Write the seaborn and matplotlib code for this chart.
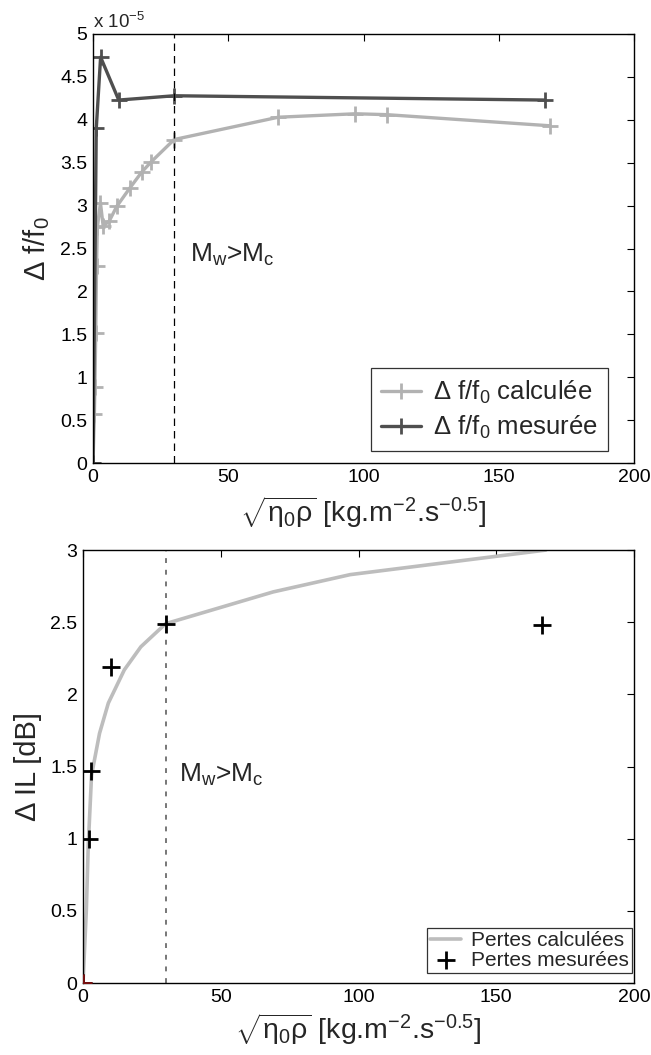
# Delta f/f0 and Delta IL versus sqrt(eta0*rho), two stacked panels
import numpy as np
import matplotlib
matplotlib.use("Agg")
import matplotlib.pyplot as plt
from matplotlib.ticker import FuncFormatter
import seaborn as sns

# --- data ---
# top panel, y values in units of 1e-5
calc_x = [0, 0.5, 0.7, 1.0, 1.3, 1.6, 2.75, 3.75, 6, 8.75, 13.5, 18, 21.5, 30, 68.5, 97, 108.5, 169]
calc_y = [0, 0.57, 0.89, 1.51, 2.30, 2.75, 3.03, 2.76, 2.82, 2.99, 3.20, 3.39, 3.51, 3.77, 4.03, 4.07, 4.06, 3.93]
meas_x = [0, 1.2, 2.8, 9.5, 30, 167]
meas_y = [0, 3.90, 4.73, 4.23, 4.28, 4.23]

# bottom panel
loss_calc_x = [0, 0.6, 1.2, 1.9, 3.1, 6, 9.2, 15, 21, 30, 69, 97, 168]
loss_calc_y = [0, 0.25, 0.5, 0.95, 1.44, 1.73, 1.94, 2.17, 2.33, 2.49, 2.71, 2.83, 3.0]
loss_meas_x = [0, 2, 3, 10, 30, 166.5]
loss_meas_y = [0, 1.0, 1.47, 2.19, 2.49, 2.48]

x_crit = 30
x_ticks = [0, 50, 100, 150, 200]
top_yticks = np.arange(0, 5.01, 0.5)
bot_yticks = np.arange(0, 3.01, 0.5)

sns.set_theme(style="white")
plt.rcParams["font.family"] = ["Liberation Sans", "DejaVu Sans"]
plt.rcParams["mathtext.fontset"] = "custom"
plt.rcParams["mathtext.rm"] = "Liberation Sans"
plt.rcParams["mathtext.it"] = "Liberation Sans:italic"
plt.rcParams["mathtext.bf"] = "Liberation Sans:bold"

light = "#b2b2b2"
dark = "#4f4f4f"
xlab = r"$\sqrt{\mathregular{\eta_0\rho}}$ [kg.m$^{\mathregular{-2}}$.s$^{\mathregular{-0.5}}$]"


def style_axes(ax):
    for s in ax.spines.values():
        s.set_color("black")
        s.set_linewidth(1)
    ax.tick_params(direction="in", length=5, width=0.8, top=True, right=True,
                   labelsize=14, pad=4, colors="black")


fig = plt.figure(figsize=(6.51, 10.55), dpi=100)

# ---------- top panel ----------
ax1 = fig.add_axes([0.1429, 0.5611, 0.831, 0.4067])
sns.lineplot(x=np.array(calc_x), y=np.array(calc_y) * 1e-5, ax=ax1, color=light,
             linewidth=2.4, marker="+", markersize=12, markeredgewidth=2,
             markeredgecolor=light, estimator=None, sort=False,
             label=r"Δ f/f$\mathregular{_0}$ calculée")
sns.lineplot(x=np.array(meas_x), y=np.array(meas_y) * 1e-5, ax=ax1, color=dark,
             linewidth=2.4, marker="+", markersize=12, markeredgewidth=2,
             markeredgecolor=dark, estimator=None, sort=False,
             label=r"Δ f/f$\mathregular{_0}$ mesurée")
ax1.axvline(x_crit, color="black", linestyle=(0, (6, 4)), linewidth=0.9)
ax1.set_xlim(0, 200)
ax1.set_ylim(0, 5e-5)
ax1.set_xticks(x_ticks)
ax1.set_yticks(top_yticks * 1e-5)
ax1.yaxis.set_major_formatter(FuncFormatter(lambda v, p: f"{v * 1e5:g}"))
style_axes(ax1)
ax1.set_xlabel(xlab, fontsize=20.5, labelpad=6)
ax1.set_ylabel(r"Δ f/f$\mathregular{_0}$", fontsize=21, labelpad=6)
ax1.text(0, 1.004, r"x 10$^{\mathregular{-5}}$", transform=ax1.transAxes,
         fontsize=13.5, ha="left", va="bottom")
ax1.text(36, 2.42e-5, r"M$_{\mathregular{w}}$>M$_{\mathregular{c}}$", fontsize=19,
         ha="left", va="center")
leg1 = ax1.legend(loc="lower right", bbox_to_anchor=(0.952, 0.028), borderaxespad=0,
                  fontsize=18.5, frameon=True, fancybox=False, edgecolor="black",
                  handlelength=1.55, handletextpad=0.45, labelspacing=0.3, borderpad=0.4)
leg1.get_frame().set_linewidth(0.9)

# ---------- bottom panel ----------
ax2 = fig.add_axes([0.1275, 0.0682, 0.8464, 0.4104])
sns.lineplot(x=loss_calc_x, y=loss_calc_y, ax=ax2, color="#bdbdbd", linewidth=2.6,
             estimator=None, sort=False, label="Pertes calculées")
sns.scatterplot(x=loss_meas_x, y=loss_meas_y, ax=ax2, marker="+", s=150,
                color="black", linewidth=2, label="Pertes mesurées", zorder=3)
ax2.scatter(loss_meas_x[:1], loss_meas_y[:1], marker="+", s=150, color="#7a1010",
            linewidth=2, zorder=4)
ax2.axvline(x_crit, color="#777777", linestyle=(0, (2.5, 3.5)), linewidth=1.4)
ax2.set_xlim(0, 200)
ax2.set_ylim(0, 3)
ax2.set_xticks(x_ticks)
ax2.set_yticks(bot_yticks)
ax2.yaxis.set_major_formatter(FuncFormatter(lambda v, p: f"{v:g}"))
style_axes(ax2)
ax2.set_xlabel(xlab, fontsize=20.5, labelpad=4)
ax2.set_ylabel("Δ IL [dB]", fontsize=21, labelpad=6)
ax2.text(35, 1.44, r"M$_{\mathregular{w}}$>M$_{\mathregular{c}}$", fontsize=19,
         ha="left", va="center")
leg2 = ax2.legend(loc="lower right", bbox_to_anchor=(0.996, 0.023), borderaxespad=0,
                  fontsize=15, frameon=True, fancybox=False, edgecolor="black",
                  handlelength=1.5, handletextpad=0.45, labelspacing=0.05, borderpad=0.15)
leg2.get_frame().set_linewidth(0.9)

fig.savefig("out.png", dpi=100)
